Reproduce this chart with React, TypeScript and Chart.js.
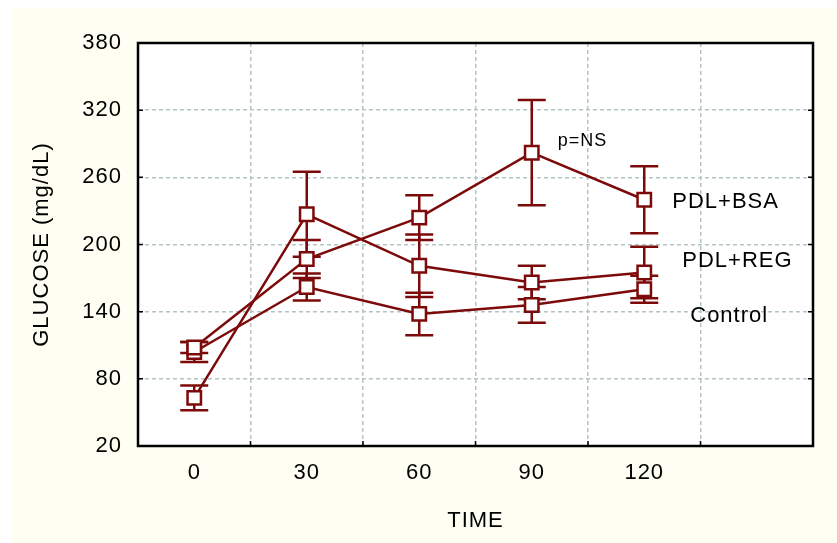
import React, { useEffect, useRef } from 'react';
import { Chart, registerables } from 'chart.js';

Chart.register(...registerables);

// ---- data ----
const timeLabels = ['0', '30', '60', '90', '120', ''];
const yMin = 20;
const yMax = 380;
const yStep = 60;

const seriesNames = ['PDL+BSA', 'PDL+REG', 'Control'];
const pdlBsa = [108, 187, 224, 282, 240];
const pdlBsaErr = [5, 17, 20, 47, 30];
const pdlReg = [63, 227, 181, 166, 175];
const pdlRegErr = [11, 38, 28, 15, 23];
const control = [104, 162, 138, 146, 160];
const controlErr = [9, 12, 19, 16, 12];

const noteTexts = ['p=NS', 'PDL+BSA', 'PDL+REG', 'Control'];
const noteCategory = [3, 4, 4, 4];
const noteValue = [292, 238, 185, 136];

const RED = '#7d0a0a';
const CREAM = 'rgb(254,254,242)';
const FONT = "'Liberation Sans', Arial, sans-serif";

const bgPlugin = {
  id: 'bg',
  beforeDraw(chart: any) {
    const { ctx, chartArea: a, width, height } = chart;
    ctx.save();
    ctx.fillStyle = CREAM;
    ctx.fillRect(0, 0, width, height);
    ctx.fillStyle = '#ffffff';
    ctx.fillRect(a.left, a.top, a.right - a.left, a.bottom - a.top);
    ctx.restore();
    ctx.letterSpacing = '1px';
  },
};

const errorBarPlugin = {
  id: 'errorBars',
  beforeDatasetsDraw(chart: any) {
    const { ctx, scales } = chart;
    const x = scales.x;
    const y = scales.y;
    ctx.save();
    ctx.strokeStyle = RED;
    ctx.lineWidth = 2.5;
    chart.data.datasets.forEach((ds: any) => {
      ds.data.forEach((v: number, i: number) => {
        const e = ds.errors[i];
        const px = x.getPixelForValue(i);
        const top = y.getPixelForValue(v + e);
        const bot = y.getPixelForValue(v - e);
        ctx.beginPath();
        ctx.moveTo(px, top);
        ctx.lineTo(px, bot);
        ctx.moveTo(px - 14, top);
        ctx.lineTo(px + 14, top);
        ctx.moveTo(px - 14, bot);
        ctx.lineTo(px + 14, bot);
        ctx.stroke();
      });
    });
    ctx.restore();
  },
};

const framePlugin = {
  id: 'frame',
  afterDraw(chart: any) {
    const { ctx, chartArea: a, scales } = chart;
    ctx.save();
    ctx.letterSpacing = '1px';
    // annotations
    ctx.fillStyle = '#000';
    ctx.textAlign = 'left';
    ctx.textBaseline = 'middle';
    const offsets = [26, 28, 38, 46];
    noteTexts.forEach((t, i) => {
      const size = i === 0 ? 18 : 22;
      ctx.font = `${size}px ${FONT}`;
      const px = scales.x.getPixelForValue(noteCategory[i]) + offsets[i];
      const py = scales.y.getPixelForValue(noteValue[i]);
      ctx.fillText(t, px, py);
    });
    // frame
    ctx.strokeStyle = '#000';
    ctx.lineWidth = 2.5;
    ctx.strokeRect(a.left, a.top, a.right - a.left, a.bottom - a.top);
    // inward tick marks
    ctx.lineWidth = 1.5;
    ctx.beginPath();
    for (let v = yMin + yStep; v < yMax; v += yStep) {
      const py = scales.y.getPixelForValue(v);
      ctx.moveTo(a.left, py);
      ctx.lineTo(a.left + 5, py);
      ctx.moveTo(a.right, py);
      ctx.lineTo(a.right - 5, py);
    }
    for (let i = 0; i < timeLabels.length - 1; i++) {
      const px = scales.x.getPixelForValue(i + 0.5);
      ctx.moveTo(px, a.bottom);
      ctx.lineTo(px, a.bottom - 5);
    }
    ctx.stroke();
    ctx.restore();
  },
};

function makeDataset(label: string, data: number[], errors: number[]) {
  return {
    label,
    data,
    errors,
    borderColor: RED,
    borderWidth: 2.5,
    tension: 0,
    pointStyle: 'rect',
    pointRadius: 9.5,
    pointBorderWidth: 2.5,
    pointBackgroundColor: '#ffffff',
    pointBorderColor: RED,
    fill: false,
  } as any;
}

export default function App() {
  const ref = useRef<HTMLCanvasElement | null>(null);

  useEffect(() => {
    if (!ref.current) return;
    const chart = new Chart(ref.current, {
      type: 'line',
      data: {
        labels: timeLabels,
        datasets: [
          makeDataset(seriesNames[0], pdlBsa, pdlBsaErr),
          makeDataset(seriesNames[1], pdlReg, pdlRegErr),
          makeDataset(seriesNames[2], control, controlErr),
        ],
      },
      options: {
        animation: false,
        responsive: false,
        devicePixelRatio: 1,
        layout: { padding: { left: 0, top: 35, right: 24, bottom: 0 } },
        plugins: { legend: { display: false }, tooltip: { enabled: false } },
        scales: {
          x: {
            type: 'category',
            offset: true,
            grid: {
              offset: true,
              color: 'rgb(180,196,196)',
              lineWidth: 1.5,
              drawTicks: false,
            },
            border: { display: false, dash: [4, 3] },
            ticks: {
              color: '#000',
              font: { family: FONT, size: 22 },
              padding: 14,
              autoSkip: false,
              maxRotation: 0,
            },
            title: {
              display: true,
              text: 'TIME',
              color: '#000',
              font: { family: FONT, size: 22 },
              padding: { top: 0, bottom: 9 },
            },
            afterFit(scale: any) {
              scale.height = 97;
            },
          } as any,
          y: {
            type: 'linear',
            min: yMin,
            max: yMax,
            grid: {
              color: 'rgb(180,196,196)',
              lineWidth: 1.5,
              drawTicks: false,
            },
            border: { display: false, dash: [4, 3] },
            ticks: {
              stepSize: yStep,
              color: '#000',
              font: { family: FONT, size: 22 },
              padding: 16,
            },
            title: {
              display: true,
              text: 'GLUCOSE (mg/dL)',
              color: '#000',
              font: { family: FONT, size: 22 },
              padding: { top: 17, bottom: 0 },
            },
            afterFit(scale: any) {
              scale.width = 126;
            },
          } as any,
        },
      },
      plugins: [bgPlugin, errorBarPlugin, framePlugin],
    });
    return () => chart.destroy();
  }, []);

  return (
    <canvas
      ref={ref}
      width={825}
      height={535}
      style={{ position: 'fixed', left: 12, top: 8, width: 825, height: 535 }}
    />
  );
}
